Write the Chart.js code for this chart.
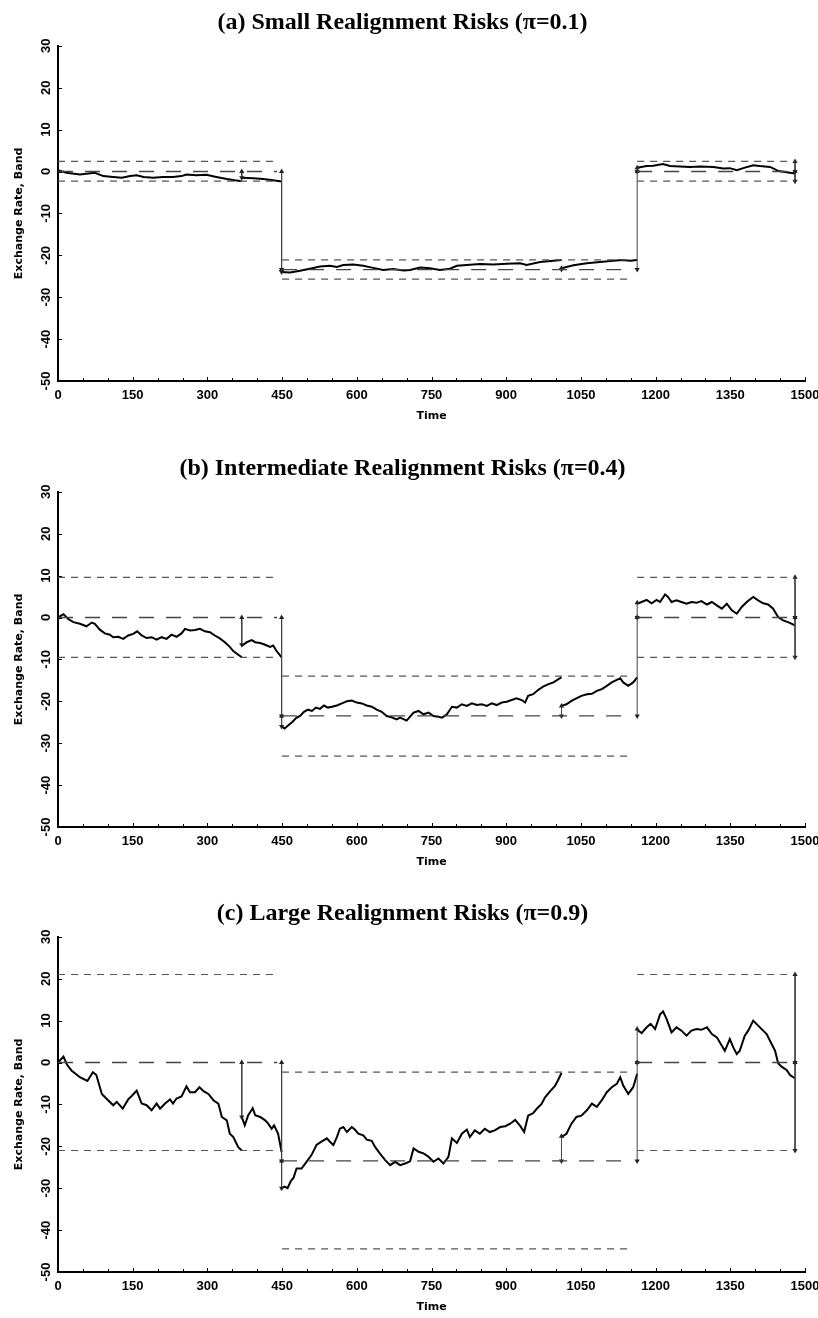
<!DOCTYPE html>
<html>
<head>
<meta charset="utf-8">
<script src="https://cdn.jsdelivr.net/npm/chart.js@4.4.1/dist/chart.umd.min.js"></script>
<style>
  html, body { margin: 0; padding: 0; background: #fff; }
  body { width: 818px; height: 1318px; position: relative; overflow: hidden; }
  .panel { position: absolute; left: 0; width: 818px; height: 440px; }
</style>
</head>
<body>
<div class="panel" style="top:0px"><canvas id="chartA" width="818" height="440"></canvas></div>
<div class="panel" style="top:446px"><canvas id="chartB" width="818" height="440"></canvas></div>
<div class="panel" style="top:891px"><canvas id="chartC" width="818" height="440"></canvas></div>
<script>
// time grid of the three parity periods, shared by all panels
const periodStart = [0, 450, 1163];
const periodEnd = [440, 1145, 1480];
const xTickLabels = [0, 150, 300, 450, 600, 750, 900, 1050, 1200, 1350, 1500];

// ---- (a) pi = 0.1 ----
const titleA = "(a) Small Realignment Risks (\u03c0=0.1)";
const parityA = [0, -23.4, 0];
const upperA = [2.4, -21.1, 2.4];
const lowerA = [-2.3, -25.7, -2.3];
const timeA = [0, 17, 44, 61, 74, 91, 111, 128, 145, 158, 172, 191, 211, 231, 248, 258, 278, 298, 318, 339, 355, 369, 369,
  369, 392, 412, 432, 449, 449,
  449, 466, 486, 506, 526, 546, 560, 573, 593, 613, 633, 653, 673, 694, 707, 727, 747, 767, 787, 801, 821, 847, 874, 901, 928, 941, 968, 995, 1011, 1011,
  1011, 1035, 1062, 1088, 1115, 1132, 1149, 1163, 1163,
  1163, 1182, 1195, 1215, 1229, 1249, 1269, 1289, 1316, 1336, 1349, 1363, 1376, 1396, 1409, 1430, 1447, 1463, 1480];
const rateA = [0.3, -0.3, -0.7, -0.5, -0.3, -1.1, -1.3, -1.5, -1.1, -0.9, -1.3, -1.5, -1.3, -1.3, -1.1, -0.7, -0.9, -0.8, -1.3, -1.8, -2.1, -2.3, null,
  -1.5, -1.6, -1.8, -2.1, -2.4, null,
  -24, -24.1, -23.7, -23.2, -22.7, -22.5, -22.8, -22.3, -22.2, -22.5, -23, -23.5, -23.3, -23.6, -23.5, -22.9, -23.1, -23.5, -23.2, -22.5, -22.3, -22.1, -22.2, -22, -21.9, -22.3, -21.6, -21.3, -21.1, null,
  -23.1, -22.4, -21.9, -21.6, -21.3, -21.1, -21.3, -21.1, null,
  0.9, 1.3, 1.4, 1.8, 1.3, 1.2, 1.1, 1.2, 1.1, 0.7, 0.8, 0.3, 0.8, 1.5, 1.3, 1.1, 0.1, -0.2, -0.5];
// arrows: [time, from, to]
const arrowsA = [[369, 0, -1.5], [449, 0, -23.4], [449, -23.4, -24], [1011, -23.4, -23.1],
  [1163, -23.4, 0], [1163, 0, 0.9], [1480, 2.4, 0], [1480, 0, -2.3]];

// ---- (b) pi = 0.4 ----
const titleB = "(b) Intermediate Realignment Risks (\u03c0=0.4)";
const parityB = [0, -23.5, 0];
const upperB = [9.6, -14, 9.6];
const lowerB = [-9.5, -33.1, -9.5];
const timeB = [0, 11, 21, 31, 44, 57, 68, 74, 84, 94, 104, 111, 121, 131, 141, 151, 159, 168, 178, 188, 198, 208, 218, 228, 238, 248, 255, 265, 275, 285, 295, 305, 315, 325, 335, 345, 352, 360, 369, 369,
  369, 379, 389, 396, 406, 416, 426, 432, 439, 449, 449,
  449, 455, 462, 470, 478, 486, 494, 502, 510, 518, 526, 534, 542, 550, 560, 570, 580, 590, 600, 610, 620, 630, 640, 650, 660, 670, 680, 687, 700, 714, 724, 734, 744, 754, 764, 771, 781, 791, 801, 811, 821, 831, 841, 851, 861, 871, 881, 891, 901, 911, 921, 931, 938, 944, 954, 964, 974, 985, 995, 1005, 1011, 1011,
  1011, 1021, 1031, 1041, 1051, 1062, 1072, 1082, 1092, 1102, 1112, 1122, 1129, 1135, 1145, 1155, 1163, 1163,
  1163, 1172, 1182, 1192, 1202, 1209, 1219, 1225, 1232, 1242, 1252, 1262, 1272, 1282, 1292, 1303, 1313, 1323, 1333, 1343, 1353, 1363, 1373, 1383, 1396, 1406, 1416, 1426, 1436, 1446, 1456, 1466, 1480];
const rateB = [0, 0.8, -0.4, -1.1, -1.5, -2.1, -1.2, -1.5, -2.9, -3.8, -4.1, -4.7, -4.6, -5.1, -4.3, -3.9, -3.3, -4.3, -4.9, -4.7, -5.3, -4.7, -5.1, -4.1, -4.6, -3.8, -2.7, -3.1, -3, -2.7, -3.3, -3.5, -4.3, -5, -5.9, -7, -8, -8.7, -9.5, null,
  -6.8, -5.9, -5.4, -5.9, -6.1, -6.5, -7, -6.7, -8, -9.5, null,
  -26, -26.5, -25.8, -25, -24, -23.5, -22.5, -22, -22.3, -21.5, -21.8, -21, -21.5, -21.3, -21, -20.5, -20, -19.8, -20.3, -20.5, -21, -21.3, -22, -22.5, -23.5, -23.8, -24.3, -23.9, -24.6, -22.7, -22.3, -23.1, -22.7, -23.5, -23.7, -23.9, -23.1, -21.3, -21.5, -20.7, -21.1, -20.5, -20.9, -20.7, -21.1, -20.5, -20.9, -20.3, -20.1, -19.7, -19.3, -19.7, -20.3, -18.7, -18.3, -17.3, -16.5, -15.9, -15.5, -14.7, -14.3, null,
  -21.1, -20.7, -19.9, -19.3, -18.7, -18.3, -18.2, -17.5, -17.1, -16.3, -15.5, -14.9, -14.5, -15.5, -16.3, -15.5, -14.3, null,
  3.3, 3.7, 4.2, 3.4, 4.2, 3.7, 5.5, 4.9, 3.7, 4.1, 3.7, 3.3, 3.7, 3.5, 3.9, 3.1, 3.7, 2.9, 2.1, 3.3, 1.7, 0.9, 2.5, 3.7, 4.9, 4.1, 3.4, 3.1, 2.1, 0.1, -0.7, -1.1, -1.9];
const arrowsB = [[369, 0, -6.5], [449, 0, -23.5], [449, -23.5, -26], [1011, -23.5, -21.1],
  [1163, -23.5, 0], [1163, 0, 3.5], [1480, 9.6, 0], [1480, 0, -9.5]];

// ---- (c) pi = 0.9 ----
const titleC = "(c) Large Realignment Risks (\u03c0=0.9)";
const parityC = [0, -23.5, 0];
const upperC = [21, -2.3, 21];
const lowerC = [-21, -44.5, -21];
const timeC = [0, 11, 18, 27, 44, 59, 70, 77, 88, 98, 111, 118, 130, 141, 148, 158, 168, 178, 188, 198, 205, 215, 225, 231, 238, 248, 258, 265, 275, 284, 293, 302, 312, 322, 329, 339, 345, 352, 362, 369, 369,
  369, 375, 382, 391, 396, 406, 416, 422, 429, 434, 442, 449, 449,
  449, 455, 461, 467, 473, 479, 489, 499, 509, 519, 529, 540, 546, 553, 560, 566, 573, 580, 590, 596, 603, 613, 620, 630, 637, 647, 657, 667, 677, 687, 697, 707, 714, 724, 734, 744, 754, 764, 774, 784, 791, 801, 811, 821, 827, 837, 847, 857, 867, 877, 888, 898, 908, 918, 928, 936, 944, 954, 961, 971, 978, 988, 998, 1005, 1011, 1011,
  1011, 1021, 1031, 1041, 1051, 1062, 1072, 1082, 1092, 1102, 1112, 1122, 1129, 1135, 1145, 1155, 1163, 1163,
  1163, 1172, 1182, 1190, 1199, 1209, 1215, 1222, 1232, 1242, 1252, 1262, 1272, 1282, 1292, 1303, 1313, 1323, 1333, 1339, 1349, 1356, 1363, 1369, 1379, 1386, 1396, 1406, 1416, 1423, 1433, 1440, 1446, 1453, 1463, 1470, 1480];
const rateC = [0, 1.4, -0.5, -1.9, -3.5, -4.4, -2.3, -3, -7.5, -8.7, -10.2, -9.4, -11, -8.8, -8, -6.7, -9.8, -10.2, -11.4, -9.8, -11, -9.8, -8.8, -9.8, -8.6, -8.1, -5.7, -7.1, -7.1, -5.9, -6.9, -7.5, -9, -9.8, -13, -13.8, -17, -17.8, -20.2, -21, null,
  -13, -15, -12.6, -10.9, -12.6, -13, -13.8, -14.6, -15.8, -15, -17, -21.4, null,
  -30, -29.6, -30, -28.4, -27.5, -25.3, -25.3, -23.7, -22.1, -19.7, -18.9, -18.1, -18.9, -19.7, -17.8, -15.8, -15.4, -16.6, -15.4, -16, -17, -17.4, -18.4, -18.7, -20.2, -21.8, -23.3, -24.5, -23.7, -24.5, -24.1, -23.6, -20.5, -21.3, -21.7, -22.5, -23.7, -22.9, -24.1, -22.5, -18.1, -19.2, -17, -16, -17.8, -16.2, -17, -15.8, -16.6, -16.2, -15.4, -15.2, -14.6, -13.7, -15.1, -16.6, -12.7, -12.1, -11.1, -9.9, -8.3, -6.9, -5.6, -4, -2.5, null,
  -17.8, -17, -14.6, -13, -12.7, -11.4, -9.8, -10.6, -9, -7.1, -5.9, -5.1, -3.5, -5.5, -7.5, -5.9, -2.7, null,
  7.8, 7, 8.4, 9.2, 8, 11.5, 12.2, 10.4, 7.2, 8.4, 7.6, 6.4, 7.6, 8, 7.8, 8.4, 6.8, 6, 4, 2.8, 5.6, 3.6, 2, 2.8, 6.4, 7.6, 10, 8.8, 7.6, 6.8, 4.4, 2.8, -0.2, -1, -1.8, -3, -3.8];
const arrowsC = [[369, 0, -13], [449, 0, -23.5], [449, -23.5, -30], [1011, -23.5, -17.6],
  [1163, -23.5, 0], [1163, 0, 8], [1480, 21, 0], [1480, 0, -21]];

// inward tick marks, matlab style
const inwardTicks = {
  id: 'inwardTicks',
  afterDraw(chart) {
    const { ctx, chartArea, scales } = chart;
    ctx.save();
    ctx.strokeStyle = '#000';
    ctx.lineWidth = 1;
    for (const t of scales.x.ticks) {
      const px = Math.round(scales.x.getPixelForValue(t.value)) + 0.5;
      const len = t.value % 150 === 0 ? 4 : 3;
      ctx.beginPath();
      ctx.moveTo(px, chartArea.bottom);
      ctx.lineTo(px, chartArea.bottom - len);
      ctx.stroke();
    }
    for (const t of scales.y.ticks) {
      const py = Math.round(scales.y.getPixelForValue(t.value)) + 0.5;
      ctx.beginPath();
      ctx.moveTo(chartArea.left, py);
      ctx.lineTo(chartArea.left + 4, py);
      ctx.stroke();
    }
    ctx.restore();
  }
};

const bandLine = (levels, dash, color, width) => levels.map((lv, i) => ({
  data: [{ x: periodStart[i], y: lv }, { x: periodEnd[i], y: lv }],
  borderColor: color,
  borderWidth: width,
  borderDash: dash,
  pointRadius: 0
}));

const arrowSets = (arrows) => arrows.map(([t, a, b]) => ({
  data: [{ x: t, y: a }, { x: t, y: b }],
  borderColor: '#444',
  backgroundColor: '#222',
  borderWidth: 1,
  pointStyle: 'triangle',
  pointRadius: 3,
  pointBorderWidth: 0,
  pointRotation: a > b ? [0, 180] : [180, 0]
}));

const tickFont = { family: 'Liberation Sans', size: 13, weight: 'bold' };

function makeChart(id, title, times, rates, parity, upper, lower, arrows) {
  const path = times.map((t, i) => ({ x: t, y: rates[i] }));
  new Chart(document.getElementById(id), {
    type: 'line',
    data: {
      datasets: [
        ...bandLine(upper, [7, 6], '#555', 1.2),
        ...bandLine(lower, [7, 6], '#555', 1.2),
        ...bandLine(parity, [15, 12], '#444', 1.3),
        ...arrowSets(arrows),
        {
          data: path,
          borderColor: '#000',
          borderWidth: 2,
          pointRadius: 0,
          spanGaps: false,
          tension: 0
        }
      ]
    },
    options: {
      responsive: false,
      animation: false,
      devicePixelRatio: 1,
      layout: { padding: { left: 0, right: 13, top: 0, bottom: 0 } },
      plugins: {
        legend: { display: false },
        tooltip: { enabled: false },
        title: {
          display: true,
          text: title,
          color: '#000',
          font: { family: 'Liberation Serif', size: 24, weight: 'bold' },
          padding: { top: 8, bottom: 9 }
        }
      },
      scales: {
        x: {
          type: 'linear',
          min: 0,
          max: 1500,
          grid: { display: false, drawTicks: false },
          border: { display: true, color: '#000', width: 2 },
          ticks: {
            stepSize: 50,
            autoSkip: false,
            maxRotation: 0,
            padding: 7,
            color: '#000',
            font: tickFont,
            callback: (v) => xTickLabels.includes(v) ? String(v) : ''
          },
          title: {
            display: true,
            text: 'Time',
            color: '#000',
            font: { family: 'DejaVu Sans', size: 11, weight: 'bold' },
            padding: { top: 0, bottom: 17 }
          },
          afterFit: (s) => { s.height = 59; s.paddingLeft = 0; s.paddingRight = 0; }
        },
        y: {
          min: -50,
          max: 30,
          grid: { display: false, drawTicks: false },
          border: { display: true, color: '#000', width: 2 },
          ticks: {
            stepSize: 10,
            minRotation: 90,
            maxRotation: 90,
            crossAlign: 'center',
            padding: 2,
            color: '#000',
            font: tickFont
          },
          title: {
            display: true,
            text: 'Exchange Rate, Band',
            color: '#000',
            font: { family: 'DejaVu Sans', size: 11, weight: 'bold' },
            padding: { top: 13, bottom: 0 }
          },
          afterFit: (s) => { s.width = 58; }
        }
      }
    },
    plugins: [inwardTicks]
  });
}

makeChart('chartA', titleA, timeA, rateA, parityA, upperA, lowerA, arrowsA);
makeChart('chartB', titleB, timeB, rateB, parityB, upperB, lowerB, arrowsB);
makeChart('chartC', titleC, timeC, rateC, parityC, upperC, lowerC, arrowsC);
</script>
</body>
</html>
